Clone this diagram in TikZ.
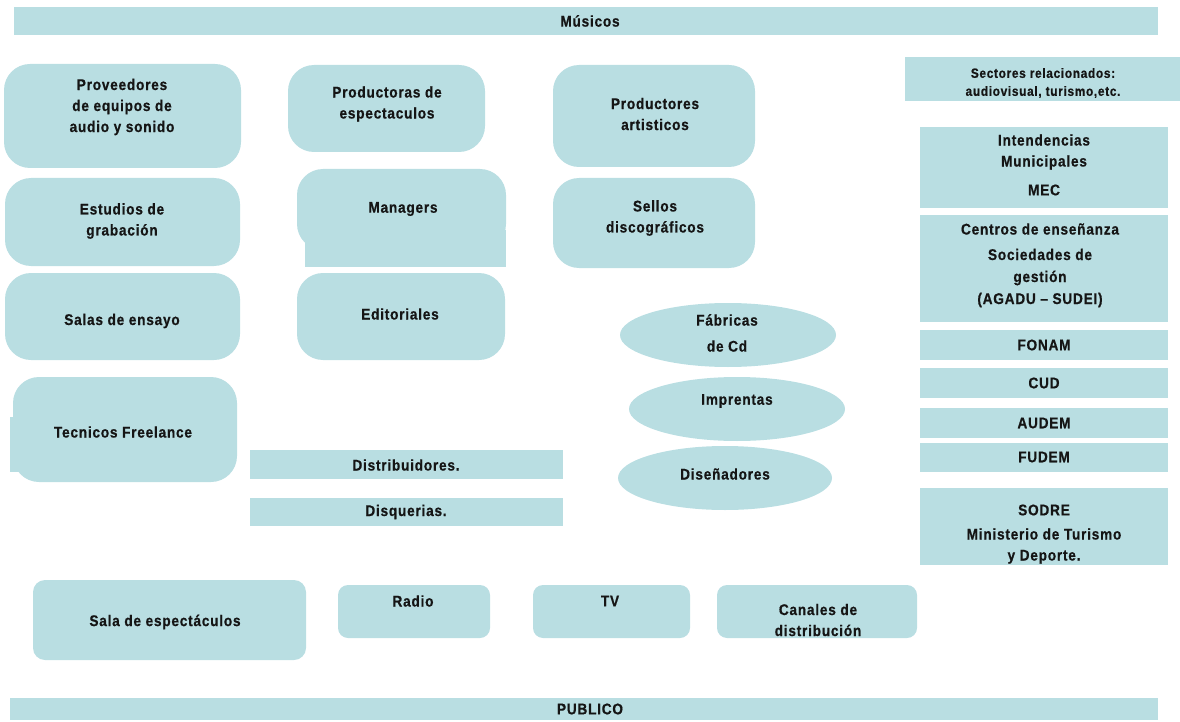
\documentclass[tikz,border=0pt]{standalone}
\usepackage{fontspec}
\setmainfont{Liberation Sans}[LetterSpace=5,FakeStretch=0.88,BoldFeatures={FakeBold=0.6}]
\usetikzlibrary{shapes.geometric}
\definecolor{boxfill}{HTML}{B9DEE2}
\definecolor{ink}{HTML}{151515}
\tikzset{
  rbox/.style={fill=boxfill, draw=none, rounded corners=26pt},
  sbox/.style={fill=boxfill, draw=none},
  oval/.style={ellipse, fill=boxfill, draw=none, inner sep=0pt},
  txt/.style={font=\bfseries\fontsize{15.5}{21}\selectfont, text=ink, align=center, inner sep=0pt},
  txts/.style={font=\bfseries\fontsize{13.5}{18}\selectfont, text=ink, align=center, inner sep=0pt},
}
\begin{document}
\begin{tikzpicture}[x=1pt,y=-1pt]
\useasboundingbox (0,0) rectangle (1180,722);
% top and bottom bars
\path[sbox] (14,7) rectangle (1158,35);
\node[txt] (musicos) at (590,21) {Músicos};
\path[sbox] (10,698) rectangle (1158,720);
\node[txt] (publico) at (590,709) {PUBLICO};
% left column
\path[rbox] (4,64) rectangle (241,168);
\node[txt] (prov) at (122,107) {Proveedores\\de equipos de\\audio y sonido};
\path[rbox] (5,178) rectangle (240,266);
\node[txt] (estud) at (122,221) {Estudios de\\grabación};
\path[rbox] (5,273) rectangle (240,360);
\node[txt] (salas) at (122,321) {Salas de ensayo};
\path[sbox] (10,417) rectangle (24,472);
\path[rbox] (13,377) rectangle (237,482);
\node[txt] (tec) at (123,432) {Tecnicos Freelance};
% middle column
\path[rbox] (288,65) rectangle (485,152);
\node[txt] (prodesp) at (387,104) {Productoras de\\espectaculos};
\path[sbox] (305,230) rectangle (506,267);
\path[rbox] (297,169) rectangle (506,250);
\node[txt] (manag) at (403,209) {Managers};
\path[rbox] (297,273) rectangle (505,360);
\node[txt] (edit) at (400,314) {Editoriales};
\path[sbox] (250,450) rectangle (563,479);
\node[txt] (distr) at (406,465) {Distribuidores.};
\path[sbox] (250,498) rectangle (563,526);
\node[txt] (disq) at (406,512) {Disquerias.};
% third column
\path[rbox] (553,65) rectangle (755,167);
\node[txt] (prodart) at (655,114) {Productores\\artisticos};
\path[rbox] (553,178) rectangle (755,268);
\node[txt] (sellos) at (655,218) {Sellos\\discográficos};
\node[oval, minimum width=216, minimum height=64] (fabE) at (728,335) {};
\node[txt, font=\bfseries\fontsize{15.5}{26}\selectfont] (fab) at (727,333) {Fábricas\\de Cd};
\node[oval, minimum width=216, minimum height=64] (imprE) at (737,409) {};
\node[txt] (impr) at (737,401) {Imprentas};
\node[oval, minimum width=214, minimum height=64] (diseE) at (725,478) {};
\node[txt] (dise) at (725,474) {Diseñadores};
% right column
\path[sbox] (905,57) rectangle (1180,101);
\node[txts] (sect) at (1043,83) {Sectores relacionados:\\ audiovisual, turismo,etc.};
\path[sbox] (920,127) rectangle (1168,208);
\node[txt] (intend) at (1044,152) {Intendencias\\Municipales};
\node[txt] (mec) at (1044,190) {MEC};
\path[sbox] (920,215) rectangle (1168,322);
\node[txt] (centros) at (1040,229) {Centros de enseñanza};
\node[txt, font=\bfseries\fontsize{15.5}{22}\selectfont] (soc) at (1040,278) {Sociedades de\\gestión\\(AGADU -- SUDEI)};
\path[sbox] (920,330) rectangle (1168,360);
\node[txt] (fonam) at (1044,345) {FONAM};
\path[sbox] (920,368) rectangle (1168,398);
\node[txt] (cud) at (1044,383) {CUD};
\path[sbox] (920,408) rectangle (1168,438);
\node[txt] (audem) at (1044,423) {AUDEM};
\path[sbox] (920,443) rectangle (1168,472);
\node[txt] (fudem) at (1044,457) {FUDEM};
\path[sbox] (920,488) rectangle (1168,565);
\node[txt] (sodre) at (1044,510) {SODRE};
\node[txt] (minis) at (1044,546) {Ministerio de Turismo\\y Deporte.};
% bottom row
\path[rbox, rounded corners=12pt] (33,580) rectangle (306,660);
\node[txt] (sala) at (165,622) {Sala de espectáculos};
\path[rbox, rounded corners=10pt] (338,585) rectangle (490,638);
\node[txt] (radio) at (413,601) {Radio};
\path[rbox, rounded corners=10pt] (533,585) rectangle (690,638);
\node[txt] (tv) at (610,601) {TV};
\path[rbox, rounded corners=10pt] (717,585) rectangle (917,638);
\node[txt] (canales) at (818,620) {Canales de\\distribución};
\end{tikzpicture}
\end{document}
